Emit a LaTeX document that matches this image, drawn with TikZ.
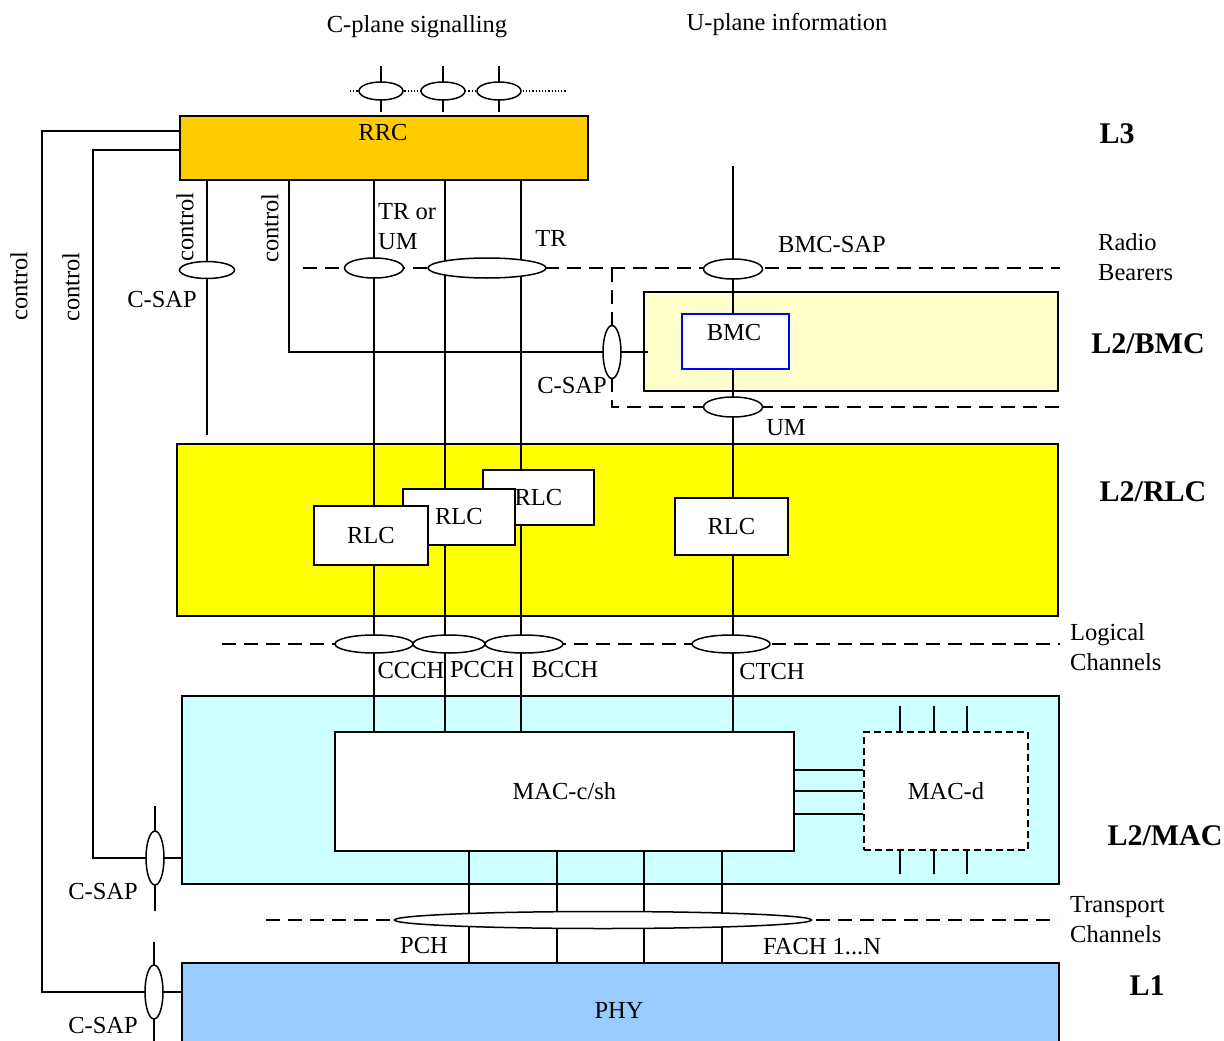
\documentclass[tikz,border=0pt]{standalone}
\usepackage{fontspec}
\setmainfont{Liberation Serif}
\usetikzlibrary{shapes.geometric,calc}
\definecolor{rrcf}{HTML}{FFCC00}
\definecolor{bmcf}{HTML}{FFFFCC}
\definecolor{rlcf}{HTML}{FFFF00}
\definecolor{macf}{HTML}{CCFFFF}
\definecolor{phyf}{HTML}{99CCFF}
\definecolor{bmcb}{HTML}{0000FF}
\pgfdeclarelayer{front}
\pgfsetlayers{main,front}

\begin{document}
\begin{tikzpicture}[
  x=1pt, y=-1pt, font=\fontsize{24.5}{30}\selectfont,
  box/.style={draw, line width=1.8pt, anchor=north west, inner sep=0, align=center},
  sap/.style={ellipse, draw, fill=white, line width=1.5pt, inner sep=0},
  wire/.style={line width=1.5pt},
  bearer/.style={line width=1.5pt, dash pattern=on 14pt off 8pt},
  txt/.style={inner sep=0},
  multi/.style={inner sep=0, align=left, anchor=north west},
  layer/.style={inner sep=0, font=\fontsize{30}{36}\selectfont\bfseries},
]
\useasboundingbox (0,0) rectangle (1224,1041);

% ---------------- protocol layers
\node[box, fill=rrcf, minimum width=408pt, minimum height=64pt] (rrc) at (179,115) {};
\node[box, fill=bmcf, minimum width=414pt, minimum height=99pt] (bmcl) at (643,291) {};
\node[box, fill=rlcf, minimum width=881pt, minimum height=172pt] (rlcl) at (176,443) {};
\node[box, fill=macf, minimum width=877pt, minimum height=188pt] (macl) at (181,695) {};
\node[box, fill=phyf, minimum width=877pt, minimum height=90pt] (phy) at (181,962) {};

% ---------------- entities and SAPs
\begin{pgfonlayer}{front}
\node[box, fill=white, draw=bmcb, minimum width=107pt, minimum height=55pt] (bmc) at (681,313) {};
\node[box, fill=white, minimum width=111pt, minimum height=55pt] (rlcC) at (482,469) {RLC};
\node[box, fill=white, minimum width=112pt, minimum height=56pt] (rlcB) at (402,488) {RLC};
\node[box, fill=white, minimum width=114pt, minimum height=59pt] (rlcA) at (313,505) {RLC};
\node[box, fill=white, minimum width=113pt, minimum height=57pt] (rlcD) at (674,497) {RLC};
\node[box, fill=white, minimum width=459pt, minimum height=119pt] (macc) at (334,731) {MAC-c/sh};
\node[box, fill=white, dash pattern=on 7pt off 4pt, minimum width=164pt, minimum height=118pt] (macd) at (863,731) {MAC-d};

\node[sap, minimum width=44pt, minimum height=18pt] (sigA) at (381,91) {};
\node[sap, minimum width=44pt, minimum height=18pt] (sigB) at (443,91) {};
\node[sap, minimum width=44pt, minimum height=18pt] (sigC) at (499,91) {};
\node[sap, minimum width=55pt, minimum height=17pt] (csapR) at (207,270) {};
\node[sap, minimum width=59pt, minimum height=20pt] (rbA) at (374,268) {};
\node[sap, minimum width=118pt, minimum height=20pt] (rbB) at (487,268) {};
\node[sap, minimum width=59pt, minimum height=20pt] (bmcsap) at (733,269) {};
\node[sap, minimum width=18pt, minimum height=53pt] (csapB) at (612,352) {};
\node[sap, minimum width=59pt, minimum height=20pt] (umsap) at (733,407) {};
\node[sap, minimum width=78pt, minimum height=18pt] (lcA) at (374,644) {};
\node[sap, minimum width=72pt, minimum height=18pt] (lcB) at (449,644) {};
\node[sap, minimum width=78pt, minimum height=18pt] (lcC) at (524,644) {};
\node[sap, minimum width=78pt, minimum height=18pt] (lcD) at (731,644) {};
\node[sap, minimum width=417pt, minimum height=17pt] (trch) at (603,920) {};
\node[sap, minimum width=18pt, minimum height=54pt] (csapM) at (155,858) {};
\node[sap, minimum width=18pt, minimum height=54pt] (csapP) at (154,992) {};

% ---------------- texts
\node[txt] (ttlC) at (417,27) {C-plane signalling};
\node[txt] (ttlU) at (787,24) {U-plane information};
\node[txt] (rrctxt) at (383,133) {RRC};
\node[txt] (bmctxt) at (734,333) {BMC};
\node[txt] (phytxt) at (619,1010) {PHY};
\node[txt, rotate=90] (ctlRa) at (185,227) {control};
\node[txt, rotate=90] (ctlRb) at (270,228) {control};
\node[txt, rotate=90] (ctlLa) at (19,286) {control};
\node[txt, rotate=90] (ctlLb) at (71,287) {control};
\node[multi] (trum) at (378,203) {TR or\\UM};
\node[txt] (trtxt) at (551,238) {TR};
\node[txt] (bmcsaptxt) at (832,245) {BMC-SAP};
\node[multi] (rbtxt) at (1098,233) {Radio\\Bearers};
\node[txt] (csapRtxt) at (162,300) {C-SAP};
\node[txt] (csapBtxt) at (572,386) {C-SAP};
\node[txt] (umtxt) at (786,428) {UM};
\node[txt] (ccch) at (411,671) {CCCH};
\node[txt] (pcch) at (482,670) {PCCH};
\node[txt] (bcch) at (565,670) {BCCH};
\node[txt] (ctch) at (772,672) {CTCH};
\node[multi] (lgtxt) at (1070,623) {Logical\\Channels};
\node[txt] (pch) at (424,945) {PCH};
\node[txt] (fach) at (822,947) {FACH 1...N};
\node[multi] (tptxt) at (1070,896) {Transport\\Channels};
\node[txt] (csapMtxt) at (103,892) {C-SAP};
\node[txt] (csapPtxt) at (103,1025) {C-SAP};

\node[layer] (lthree) at (1117,134) {L3};
\node[layer] (lbmc) at (1148,344) {L2/BMC};
\node[layer] (lrlc) at (1153,492) {L2/RLC};
\node[layer] (lmac) at (1165,836) {L2/MAC};
\node[layer] (lone) at (1147,986) {L1};
\end{pgfonlayer}

% ---------------- free ends
\coordinate (sigL) at (350,91);  \coordinate (sigR) at (567,91);
\coordinate (rbL) at (303,268);  \coordinate (rbR) at (1060,268);
\coordinate (lcL) at (222,644);  \coordinate (lcR) at (1060,644);
\coordinate (trL) at (266,920);  \coordinate (trR) at (1058,920);
\coordinate (leftA) at (42,0);   \coordinate (leftB) at (93,0);
\coordinate (ctlB) at (289,352);
\coordinate (colA) at (374,0);   \coordinate (colB) at (445,0);   \coordinate (colC) at (521,0);

% ---------------- service access points
\draw[line width=1.2pt, dotted] (sigL) -- (sigR);
\draw[bearer] (rbL) -- (rbR);
\draw[bearer] (csapB |- rbL) -- (csapB |- umsap) -- (umsap -| rbR);
\draw[bearer] (lcL) -- (lcR);
\draw[bearer] (trL) -- (trR);

% ---------------- flows
\foreach \s in {sigA,sigB,sigC}
  \draw[wire] ([yshift=25pt]\s.center) -- ([yshift=3pt]\s.center |- rrc.north);
\draw[wire] ([yshift=-16pt]rrc.north west) -| (leftA |- csapP) -- (csapP -| phy.west);
\draw[wire] ([yshift=-35pt]rrc.north west) -| (leftB |- csapM) -- (csapM -| macl.west);
\draw[wire] ([yshift=52pt]csapM.center) -- ([yshift=-53pt]csapM.center);
\draw[wire] ([yshift=50pt]csapP.center) -- ([yshift=-55pt]csapP.center);
\draw[wire] (csapR |- rrc.south) -- ([yshift=8pt]csapR |- rlcl.north);
\draw[wire] (ctlB |- rrc.south) -- (ctlB) -- ([xshift=5pt]csapB -| bmcl.west);
\foreach \c in {colA,colB,colC}
  \draw[wire] (\c |- rrc.south) -- (\c |- macc.north);
\draw[wire] ([yshift=103pt]bmcsap.center) -- (bmcsap |- macc.north);
\foreach \y in {39,60,83}
  \draw[wire] ([yshift=-\y pt]macc.north east) -- ([yshift=-\y pt]macd.north west);
\foreach \x in {37,71,104} {
  \draw[wire] ([xshift=\x pt, yshift=25pt]macd.north west) -- ([xshift=\x pt]macd.north west);
  \draw[wire] ([xshift=\x pt]macd.south west) -- ([xshift=\x pt, yshift=-23pt]macd.south west);
}
\foreach \x in {135,223,310,388}
  \draw[wire] ([xshift=\x pt]macc.south west) -- ([xshift=\x pt]macc.south west |- phy.north);

\end{tikzpicture}
\end{document}
